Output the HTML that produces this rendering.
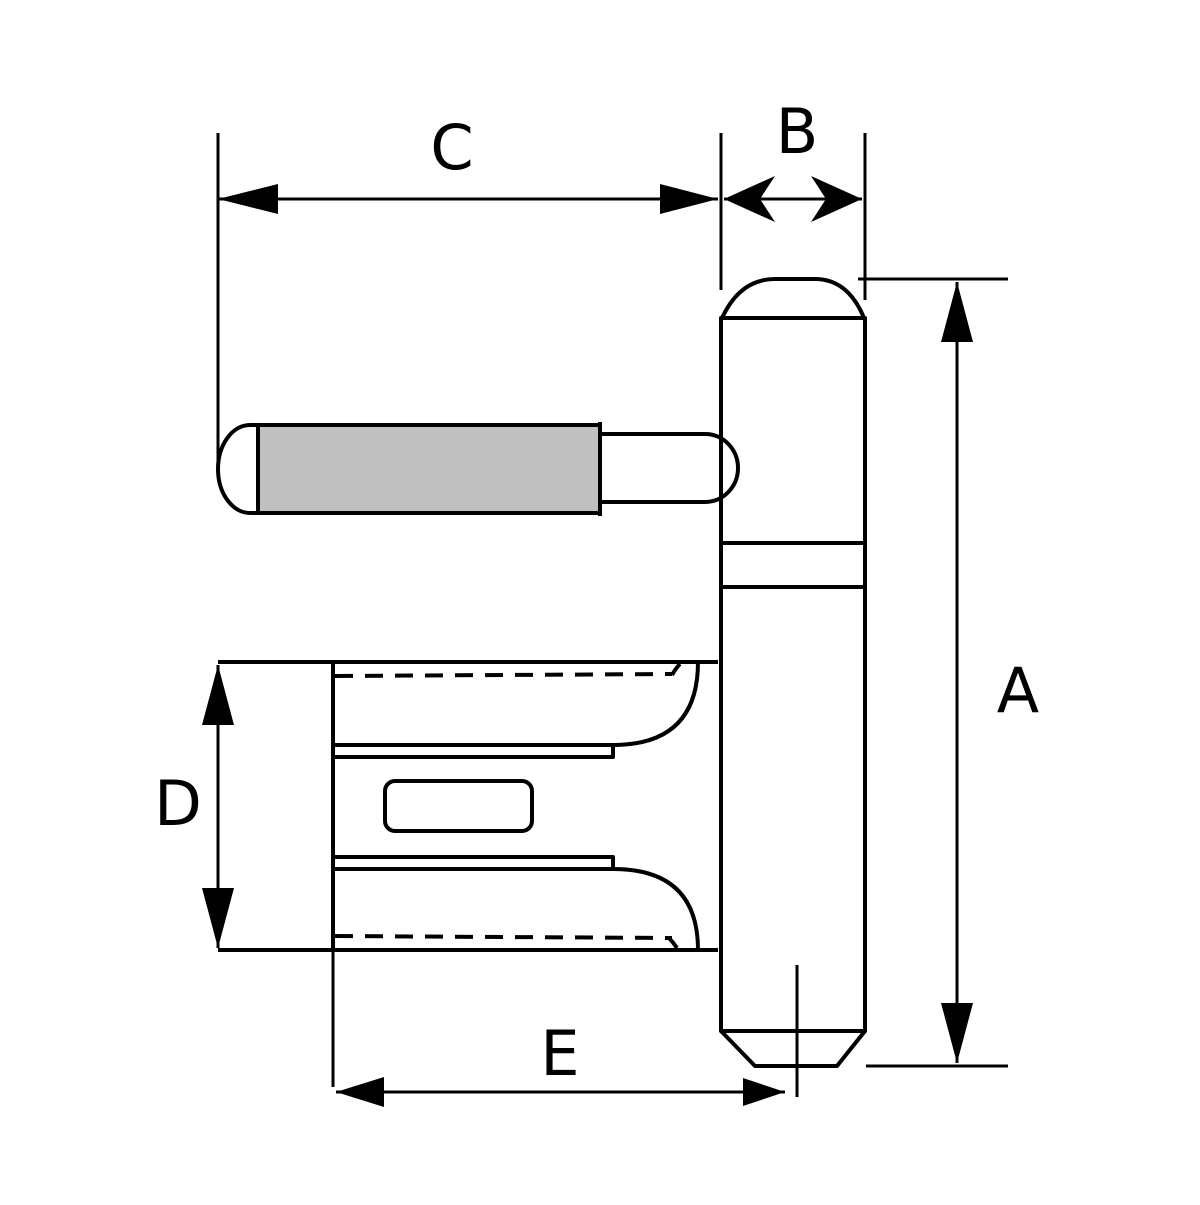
<!DOCTYPE html>
<html><head><style>body{margin:0;background:#fff}</style></head><body>
<svg width="1200" height="1200" viewBox="0 0 1200 1200" xmlns="http://www.w3.org/2000/svg">
<rect width="1200" height="1200" fill="#fff"/>
<g fill="none" stroke="#000" stroke-width="4" stroke-linejoin="round">
<!-- main pin -->
<path d="M721,1031 L721,318 L865,318 L865,1031 Z"/>
<path d="M722,318 Q740,279 775,279 L815,279 Q848,279 864,318"/>
<path d="M721,1031 L755,1066 L837,1066 L865,1031"/>
<line x1="721" y1="543" x2="865" y2="543"/>
<line x1="721" y1="587" x2="865" y2="587"/>
<!-- arm -->
<rect x="258" y="425" width="342" height="88" fill="#c0c0c0"/>
<path d="M258,425 L250,425 A32,44 0 0 0 250,513 L258,513"/>
<path d="M600,434 L705,434 A33,34 0 0 1 705,502 L600,502"/>
<line x1="600" y1="422" x2="600" y2="436"/>
<line x1="600" y1="500" x2="600" y2="516"/>
<!-- lower body -->
<line x1="218" y1="662" x2="718" y2="662"/>
<line x1="218" y1="950" x2="718" y2="950"/>
<line x1="333" y1="662" x2="333" y2="950"/>
<line x1="335" y1="676" x2="672" y2="674" stroke-dasharray="18,12"/>
<line x1="335" y1="936" x2="672" y2="938" stroke-dasharray="18,12"/>
<path d="M672,675 Q676,668 680,664"/>
<path d="M668,937 Q673,942 677,948"/>
<path d="M335,745 L613,745 Q698,745 698,662"/>
<path d="M335,757 L613,757 L613,745"/>
<path d="M335,869 L613,869 Q698,869 698,950"/>
<path d="M335,857 L613,857 L613,869"/>
<rect x="385" y="781" width="147" height="50" rx="10"/>
</g>
<g stroke="#000" stroke-width="3" fill="none">
<line x1="218" y1="133" x2="218" y2="469"/>
<line x1="721" y1="133" x2="721" y2="290"/>
<line x1="865" y1="133" x2="865" y2="300"/>
<line x1="218" y1="199" x2="718" y2="199"/>
<line x1="724" y1="199" x2="862" y2="199"/>
<line x1="858" y1="279" x2="1008" y2="279"/>
<line x1="866" y1="1066" x2="1008" y2="1066"/>
<line x1="957" y1="282" x2="957" y2="1063"/>
<line x1="218" y1="665" x2="218" y2="948"/>
<line x1="333" y1="950" x2="333" y2="1087"/>
<line x1="336" y1="1092" x2="785" y2="1092"/>
<line x1="797" y1="965" x2="797" y2="1097"/>
</g>
<g fill="#000">
<polygon points="218,199 278,184 278,214"/>
<polygon points="718,199 660,184 660,214"/>
<polygon points="724,199 775,176 760,199 775,222"/>
<polygon points="862,199 811,176 826,199 811,222"/>
<polygon points="957,282 941,342 973,342"/>
<polygon points="957,1063 941,1003 973,1003"/>
<polygon points="218,665 202,725 234,725"/>
<polygon points="218,948 202,888 234,888"/>
<polygon points="336,1092 384,1077 384,1107"/>
<polygon points="785,1092 743,1078 743,1106"/>
</g>
<g font-family="'DejaVu Sans','Liberation Sans',sans-serif" font-size="62" text-anchor="middle" fill="#000">
<text x="452" y="169">C</text>
<text x="797" y="153">B</text>
<text x="1018" y="712">A</text>
<text x="178" y="825">D</text>
<text x="560" y="1075">E</text>
</g>
</svg>
</body></html>
